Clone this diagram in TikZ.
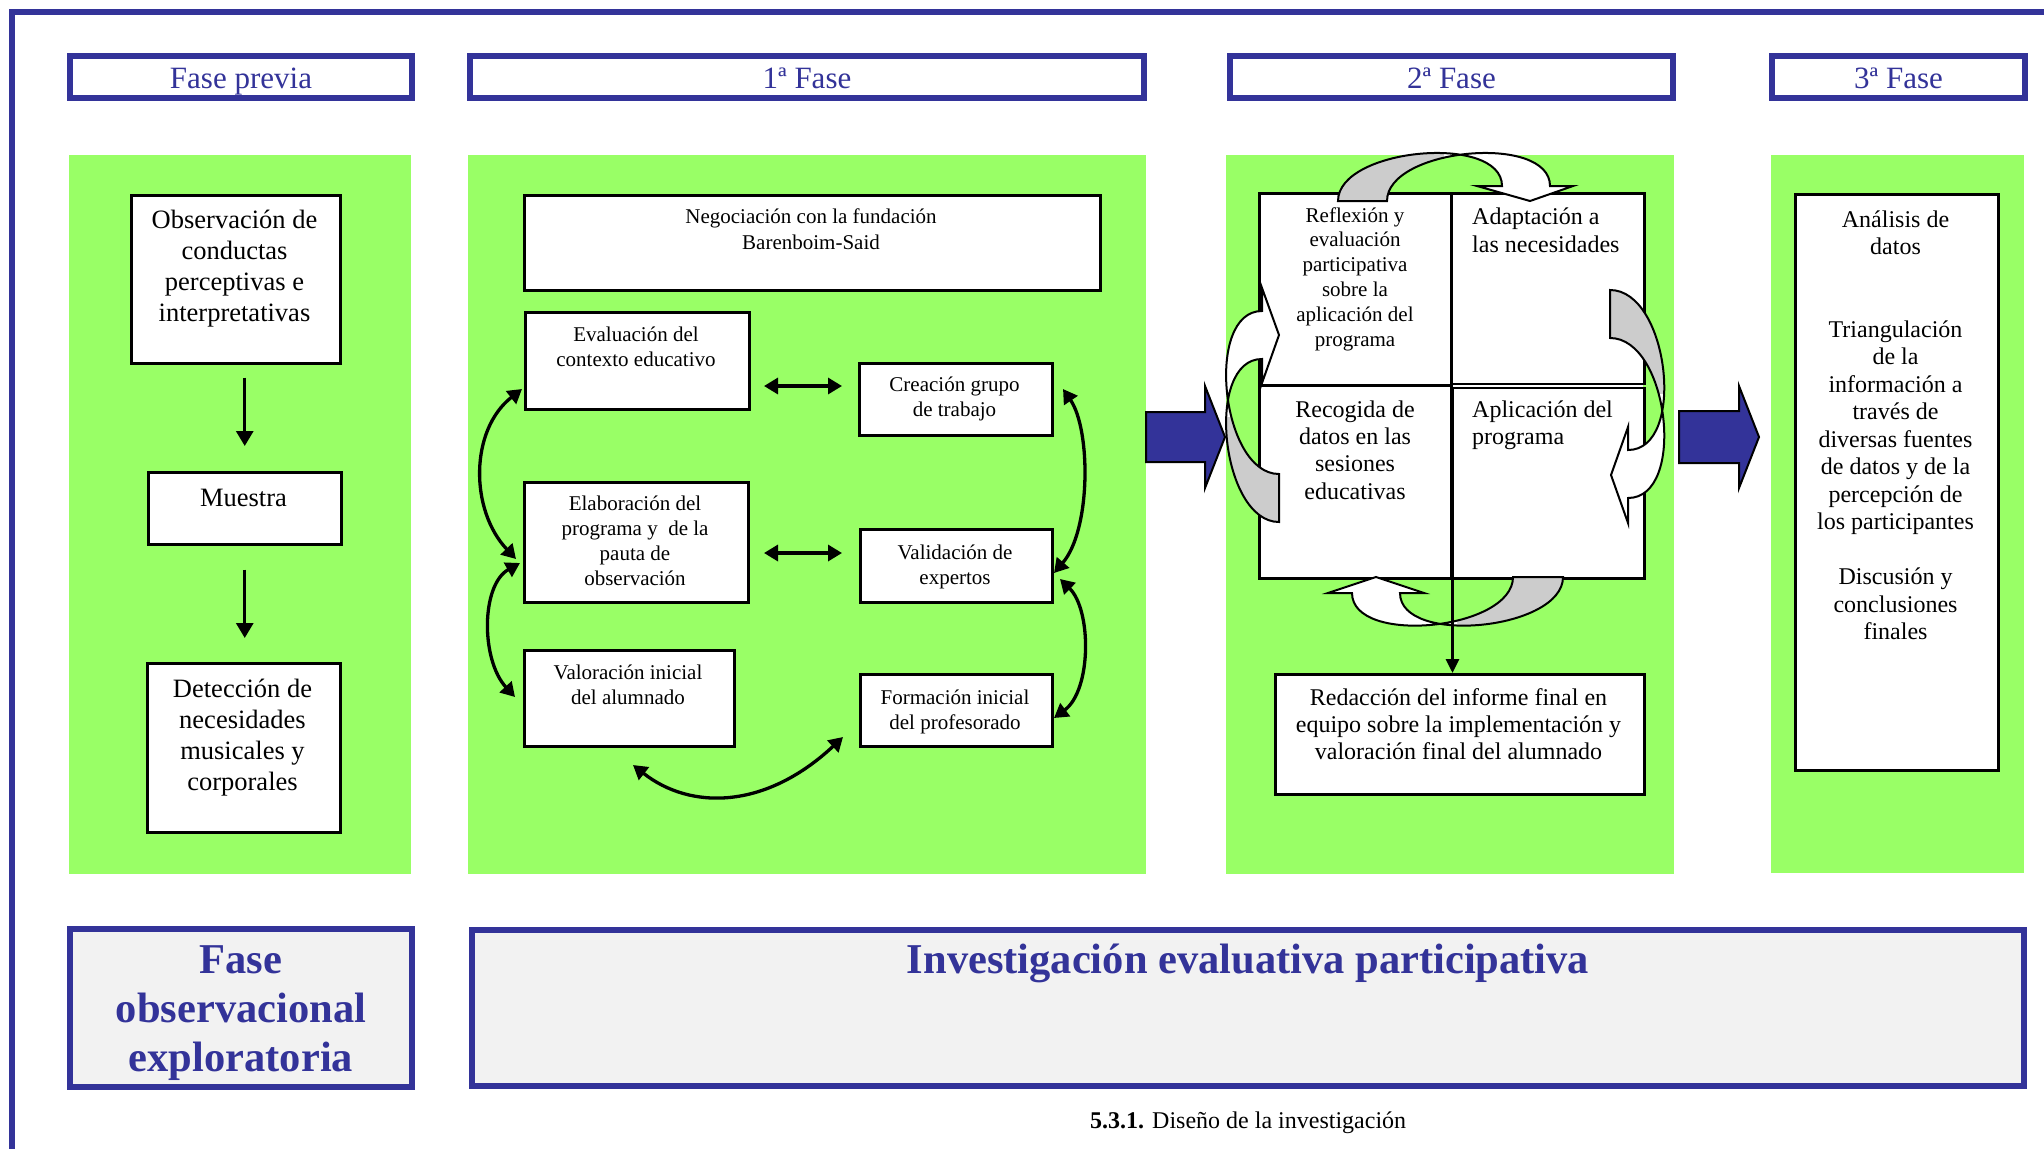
\documentclass[tikz,border=0pt]{standalone}
\usepackage{fontspec}
\setmainfont{Liberation Serif}
\usetikzlibrary{arrows.meta,calc}
\definecolor{fblue}{RGB}{51,51,153}
\definecolor{fgreen}{RGB}{153,255,102}
\definecolor{fgray}{RGB}{204,204,204}
\definecolor{flight}{RGB}{242,242,242}
\newcommand{\fs}[2]{\fontsize{#1}{#2}\selectfont}
\tikzset{
  box/.style={draw=black, line width=2.5pt, fill=white, inner sep=0pt, anchor=north west},
  hdr/.style={draw=fblue, line width=6pt, fill=white},
  btm/.style={draw=fblue, line width=6pt, fill=flight},
  hdrtxt/.style={text=fblue, font=\fs{31}{36}, anchor=base, inner sep=0pt},
  ttl/.style={text=fblue, font=\bfseries\fs{42.5}{49}, anchor=base, inner sep=0pt, align=center},
  txt/.style={inner sep=0pt, anchor=base, align=center},
  txtl/.style={inner sep=0pt, anchor=base west, align=left},
  larr/.style={line width=3pt, -{Triangle[length=15pt,width=17pt]}},
  varr/.style={line width=3pt, -{Triangle[length=14pt,width=13pt]}},
  darr/.style={line width=3.3pt, {Triangle[length=14pt,width=16pt]}-{Triangle[length=14pt,width=16pt]}},
  barr/.style={fill=fblue, draw=black, line width=2pt, line join=miter},
}
\newcommand{\bx}[5]{\node[box, minimum width=#4pt, minimum height=#5pt] (#1) at (#2,#3) {};}
\newcommand{\cba}[4]{%
  \begin{scope}\clip #3;
    \fill[fgray] (#1a1) .. controls ($(#1a1)+#2$) and ($(#1b1)+#2$) .. (#1b1) -- (#1w1) -- (#1t) -- (#1w2) -- (#1b2) .. controls ($(#1b2)+#2$) and ($(#1a2)+#2$) .. (#1a2) -- cycle;
  \end{scope}
  \begin{scope}\clip #4;
    \fill[white] (#1a1) .. controls ($(#1a1)+#2$) and ($(#1b1)+#2$) .. (#1b1) -- (#1w1) -- (#1t) -- (#1w2) -- (#1b2) .. controls ($(#1b2)+#2$) and ($(#1a2)+#2$) .. (#1a2) -- cycle;
  \end{scope}
  \draw[line width=2pt, line join=miter] (#1a1) .. controls ($(#1a1)+#2$) and ($(#1b1)+#2$) .. (#1b1) -- (#1w1) -- (#1t) -- (#1w2) -- (#1b2) .. controls ($(#1b2)+#2$) and ($(#1a2)+#2$) .. (#1a2) -- cycle;
}
\begin{document}
\begin{tikzpicture}[x=1pt,y=-1pt]
\useasboundingbox (0,0) rectangle (2044,1149);
% outer frame
\draw[fblue, line width=6pt] (2044,12) -- (12,12) -- (12,1149);
% header boxes
\draw[hdr] (70,56) rectangle (412,98);
\node[hdrtxt] (h0) at (241,88) {Fase previa};
\draw[hdr] (470,56) rectangle (1144,98);
\node[hdrtxt] (h1) at (807,88) {1ª Fase};
\draw[hdr] (1230,56) rectangle (1673,98);
\node[hdrtxt] (h2) at (1451.5,88) {2ª Fase};
\draw[hdr] (1772,56) rectangle (2025,98);
\node[hdrtxt] (h3) at (1898.5,88) {3ª Fase};
% green panels
\fill[fgreen] (69,155) rectangle (411,874);
\fill[fgreen] (468,155) rectangle (1146,874);
\fill[fgreen] (1226,155) rectangle (1674,874);
\fill[fgreen] (1771,155) rectangle (2024,873);
% ---------- Fase previa ----------
\bx{obs}{130}{194}{209}{168}
\bx{mue}{147}{471}{193}{72}
\bx{det}{146}{662}{193}{169}
\node[txt, font=\fs{26.5}{31}] (obst) at (234.5,321) {Observación de\\conductas\\perceptivas e\\interpretativas};
\node[txt, font=\fs{26.5}{31}] (muet) at (243.5,506) {Muestra};
\node[txt, font=\fs{26.5}{30.7}] (dett) at (242.5,790) {Detección de\\necesidades\\musicales y\\corporales};
\draw[larr, shorten <=13pt, shorten >=25pt] (obs.south -| mue.north) -- (mue.north);
\draw[larr, shorten <=24pt, shorten >=24pt] (mue.south) -- (mue.south |- det.north);
% ---------- 1a Fase ----------
\bx{neg}{523}{194}{576}{95}
\bx{eva}{524}{311}{224}{97}
\bx{cre}{858}{362}{193}{72}
\bx{ela}{523}{481}{224}{120}
\bx{val}{859}{528}{192}{73}
\bx{vai}{523}{649}{210}{96}
\bx{fpr}{859}{673}{192}{72}
\node[txt, font=\fs{21}{26}] (negt) at (811,249) {Negociación con la fundación\\Barenboim-Said};
\node[txt, font=\fs{21}{25}] (evat) at (636,366) {Evaluación del\\contexto educativo};
\node[txt, font=\fs{21}{25}] (cret) at (954.5,416) {Creación grupo\\de trabajo};
\node[txt, font=\fs{21}{25}] (elat) at (635,585) {Elaboración del\\programa y\ \ de la\\pauta de\\observación};
\node[txt, font=\fs{21}{25}] (valt) at (955,584) {Validación de\\expertos};
\node[txt, font=\fs{21}{25}] (vait) at (628,704) {Valoración inicial\\del alumnado};
\node[txt, font=\fs{21}{25}] (fprt) at (955,729) {Formación inicial\\del profesorado};
\coordinate (d1a) at (764,386); \coordinate (d1b) at (842,386);
\coordinate (d2a) at (764,553); \coordinate (d2b) at (842,553);
\draw[darr] (d1a) -- (d1b);
\draw[darr] (d2a) -- (d2b);
\coordinate (l1a) at (522,389); \coordinate (l1b) at (516,559);
\coordinate (l2a) at (520,563); \coordinate (l2b) at (515,697);
\coordinate (r1a) at (1063,389); \coordinate (r1b) at (1054,573);
\coordinate (r2a) at (1060,579); \coordinate (r2b) at (1054,718);
\coordinate (b1a) at (633,765); \coordinate (b1b) at (843,737);
\draw[darr] (l1a) .. controls (469.7,430) and (469.7,510) .. (l1b);
\draw[darr] (l2a) .. controls (480.8,585) and (480.8,660) .. (l2b);
\draw[darr] (r1a) .. controls (1091,430) and (1091,530) .. (r1b);
\draw[darr] (r2a) .. controls (1091.7,610) and (1091.7,690) .. (r2b);
\draw[darr] (b1a) .. controls (690,810) and (765,810) .. (b1b);
% blue arrow 1
\coordinate (ba1) at (1146,412);
\draw[barr] (ba1) -- (1205,412) -- (1205,386) -- (1225,437) -- (1205,488) -- (1205,462) -- (1146,462) -- cycle;
% ---------- 2a Fase ----------
\fill[white] (1451,381) rectangle (1643,389);
\bx{tl}{1258}{192}{192}{192}
\bx{tr}{1450}{192}{193}{190.5}
\bx{bl}{1258}{384}{192}{193}
\bx{br}{1451}{386.8}{192}{190.2}
\bx{red}{1274}{673}{369}{120}
\node[txt, font=\fs{21}{24.8}] (tlt) at (1355,346) {Reflexión y\\evaluación\\participativa\\sobre la\\aplicación del\\programa};
\node[txtl, font=\fs{24}{28}] (trt) at (1472,252) {Adaptación a\\las necesidades};
\node[txt, font=\fs{24}{27.4}] (blt) at (1355,499.2) {Recogida de\\datos en las\\sesiones\\educativas};
\node[txtl, font=\fs{24}{27.4}] (brt) at (1472,444.4) {Aplicación del\\programa};
\node[txt, font=\fs{24}{27}] (redt) at (1458.5,759) {Redacción del informe final en\\equipo sobre la implementación y\\valoración final del alumnado};
% curved block arrows
\coordinate (Ta1) at (1338,201); \coordinate (Ta2) at (1387,201);
\coordinate (Tb1) at (1502,186); \coordinate (Tb2) at (1550,186);
\coordinate (Tw1) at (1477,186); \coordinate (Tw2) at (1573,186);
\coordinate (Tt) at (1530,201);
\coordinate (Ra1) at (1610,290); \coordinate (Ra2) at (1610,338);
\coordinate (Rb1) at (1628,450); \coordinate (Rb2) at (1628,498);
\coordinate (Rw1) at (1628,427); \coordinate (Rw2) at (1628,523);
\coordinate (Rt) at (1611,475);
\coordinate (Ba1) at (1563,577); \coordinate (Ba2) at (1513,577);
\coordinate (Bb1) at (1400,593); \coordinate (Bb2) at (1352,593);
\coordinate (Bw1) at (1424,593); \coordinate (Bw2) at (1328,593);
\coordinate (Bt) at (1376,577);
\coordinate (La1) at (1279,522); \coordinate (La2) at (1279,474);
\coordinate (Lb1) at (1262,359); \coordinate (Lb2) at (1262,311);
\coordinate (Lw1) at (1262,383); \coordinate (Lw2) at (1262,288);
\coordinate (Lt) at (1279,335);
\cba{T}{(0,-53)}{(1200,100) rectangle (1444,260)}{(1444,100) rectangle (1700,260)}
\cba{R}{(59,0)}{(1580,250) rectangle (1720,394)}{(1580,394) rectangle (1720,560)}
\cba{B}{(0,53)}{(1457,560) rectangle (1600,660)}{(1300,560) rectangle (1457,660)}
\cba{L}{(-58,0)}{(1180,416) rectangle (1300,560)}{(1180,270) rectangle (1300,416)}
\draw[varr] (bl.south east) -- (bl.south east |- red.north);
% blue arrow 2
\coordinate (ba2) at (1679,411);
\draw[barr] (ba2) -- (1739,411) -- (1739,386) -- (1759,437) -- (1739,488) -- (1739,463) -- (1679,463) -- cycle;
% ---------- 3a Fase ----------
\bx{ana}{1794}{193}{203}{576}
\node[txt, font=\fs{24}{27.5}] (anat) at (1895.5,639.5) {Análisis de\\datos\\[55pt]Triangulación\\de la\\información a\\través de\\diversas fuentes\\de datos y de la\\percepción de\\los participantes\\[27.5pt]Discusión y\\conclusiones\\finales};
% ---------- bottom ----------
\draw[btm] (70,929) rectangle (412,1087);
\node[ttl] (fobt) at (241,1071) {Fase\\observacional\\exploratoria};
\draw[btm] (472,930) rectangle (2024,1086);
\node[ttl] (invt) at (1248,973) {Investigación evaluativa participativa};
\node[inner sep=0pt, anchor=base west, font=\fs{24}{28}] (cap) at (1090,1128) {\textbf{5.3.1.} Diseño de la investigación};
\end{tikzpicture}
\end{document}
